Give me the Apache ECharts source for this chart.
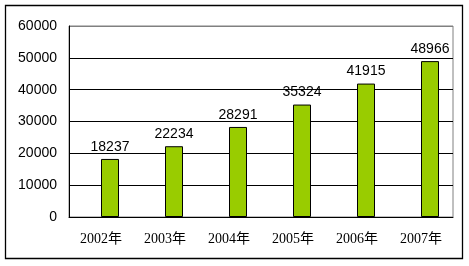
<!DOCTYPE html>
<html><head><meta charset="utf-8">
<script src="https://cdn.jsdelivr.net/npm/echarts@6/dist/echarts.min.js"></script>
<style>html,body{margin:0;padding:0;background:#fff}#c{width:469px;height:266px}</style>
</head><body><div id="c"></div>
<script>
const categories = ['2002年','2003年','2004年','2005年','2006年','2007年'];
const values = [18237, 22234, 28291, 35324, 41915, 48966];
const yTicks = [0, 10000, 20000, 30000, 40000, 50000, 60000];

const chart = echarts.init(document.getElementById('c'), null, {renderer:'canvas'});
chart.setOption({
  animation:false,
  backgroundColor:'#fff',
  graphic:[{type:'rect',shape:{x:5.5,y:5.5,width:457,height:253},style:{fill:null,stroke:'#000',lineWidth:1.3},z:-1}],
  grid:{left:69,top:26,right:16,bottom:49,show:true,borderColor:'#808080',borderWidth:1,backgroundColor:'transparent'},
  xAxis:{type:'category',data:categories,
    axisLine:{lineStyle:{color:'#000',width:1}},
    axisTick:{inside:true,length:5,lineStyle:{color:'#000'}},
    axisLabel:{color:'#000',fontSize:14,fontFamily:'Liberation Serif, Noto Sans CJK SC',margin:15}},
  yAxis:{type:'value',min:yTicks[0],max:yTicks[yTicks.length-1],interval:10000,
    axisLine:{show:true,lineStyle:{color:'#000',width:1}},
    axisTick:{show:false},
    splitLine:{lineStyle:{color:['#000','#000','#000','#000','#000','#000','#808080'],width:1}},
    axisLabel:{color:'#000',fontSize:14,fontFamily:'Liberation Sans, Arial',margin:12,formatter:v=>String(v)}},
  series:[
    {type:'bar',data:values.map(()=>null),barWidth:18,barGap:'0%',silent:true},
    {type:'bar',data:values,barWidth:18,barGap:'0%',
     itemStyle:{color:'#99CC00',borderColor:'#000',borderWidth:1},
     label:{show:true,position:'top',distance:5,color:'#000',fontSize:14,fontFamily:'Liberation Sans, Arial'}}
  ]
});
</script></body></html>
